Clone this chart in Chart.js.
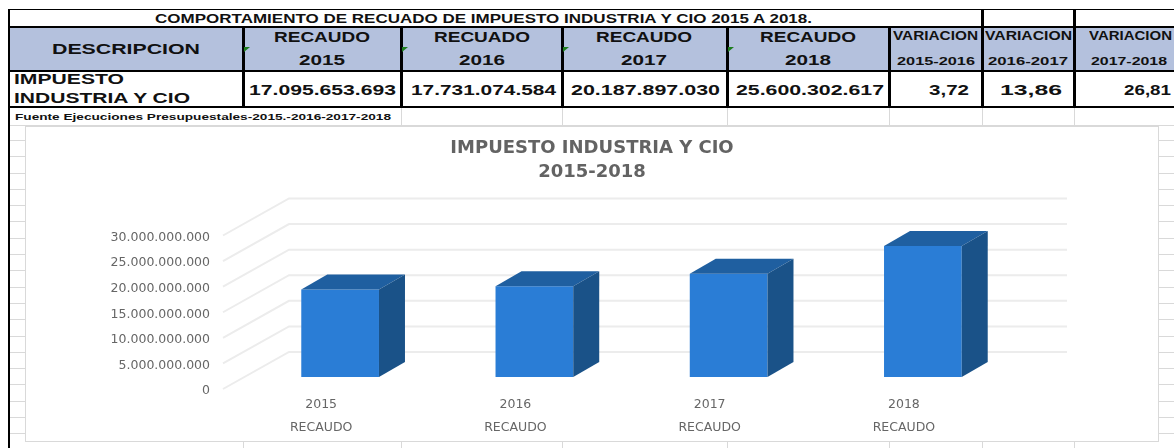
<!DOCTYPE html>
<html lang="es">
<head>
<meta charset="utf-8">
<script src="https://cdn.jsdelivr.net/npm/chart.js@4"></script>
<style>
html,body{margin:0;padding:0;background:#fff;overflow:hidden}
#page{position:relative;width:1174px;height:448px;overflow:hidden;font-family:"Liberation Sans",Arial,sans-serif}
.b{position:absolute}
.t{position:absolute;white-space:nowrap;font-weight:bold;color:#111;line-height:1;transform-origin:0 50%}
#frame{position:absolute;left:26px;top:127px;width:1132px;height:314px;background:#fff;box-shadow:0 0 0 1px #d9d9d9}
canvas{position:absolute;left:0;top:0}
</style>
</head>
<body>
<div id="page">
  <div id="frame"><canvas id="c" width="1132" height="314"></canvas></div>
</div>
<script>
// ---- data ----
const years = ['2015', '2016', '2017', '2018'];
const seriesName = 'RECAUDO';
const recaudo = [17095653693, 17731074584, 20187897030, 25600302617];
const recaudoText = ['17.095.653.693', '17.731.074.584', '20.187.897.030', '25.600.302.617'];
const headerWords = ['RECAUDO', 'RECUADO', 'RECAUDO', 'RECAUDO'];
const variationPeriods = ['2015-2016', '2016-2017', '2017-2018'];
const variationValues = ['3,72', '13,86', '26,81'];
const tickValues = [0, 5000000000, 10000000000, 15000000000, 20000000000, 25000000000, 30000000000];
const chartTitle = ['IMPUESTO INDUSTRIA Y CIO', '2015-2018'];
const tableTitle = 'COMPORTAMIENTO DE RECUADO DE IMPUESTO INDUSTRIA Y CIO 2015 A 2018.';
const sourceNote = 'Fuente Ejecuciones Presupuestales-2015.-2016-2017-2018';

// ---- spreadsheet backdrop (HTML) ----
const page = document.getElementById('page');
const frame = document.getElementById('frame');
function box(x, y, w, h, col, before) {
  const d = document.createElement('div');
  d.className = 'b';
  d.style.cssText = `left:${x}px;top:${y}px;width:${w}px;height:${h}px;background:${col}`;
  page.insertBefore(d, before ? frame : null);
  return d;
}
function text(s, x0, x1, yc, size, col) {
  const d = document.createElement('div');
  d.className = 't';
  d.textContent = s;
  d.style.fontSize = size + 'px';
  d.style.left = x0 + 'px';
  d.style.top = (yc - size / 2) + 'px';
  if (col) d.style.color = col;
  page.appendChild(d);
  d.style.transform = `scaleX(${(x1 - x0) / d.getBoundingClientRect().width})`;
}
const colX = [243, 401, 562, 727, 889, 982, 1074];
// faint cell gridlines
for (let y = 9.5; y < 448; y += 16.3) {
  if (y > 127) { box(10, Math.round(y), 16, 1, '#d9d9d9', true); box(1158, Math.round(y), 16, 1, '#d9d9d9', true); }
}
box(10, 125, 1164, 1, '#d9d9d9', true);
colX.forEach(x => {
  if (x > 243) box(x, 107, 1, 18, '#d9d9d9', true);
  box(x, 441, 1, 7, '#d9d9d9', true);
});
// header fill
box(10, 28, 1164, 42, '#b4c1dd', true);
// black rules
const black = '#000';
box(8, 9, 1166, 1, black);
box(8, 26, 1166, 2, black);
box(8, 70, 1166, 2, black);
box(8, 106, 1166, 2, black);
box(8, 9, 2, 439, black);
colX.forEach((x, i) => box(x - 1, i > 4 ? 9 : 27, 3, i > 4 ? 98 : 80, black));
// green cell markers
[244, 402, 563, 728].forEach(x => {
  const d = box(x, 47, 6, 5, '#1e7d1e');
  d.style.clipPath = 'polygon(0 0,100% 0,0 100%)';
});

text(tableTitle, 155, 812, 18, 13);
text('DESCRIPCION', 52, 200, 49, 15.5);
text('IMPUESTO', 14, 124, 79, 15.5);
text('INDUSTRIA Y CIO', 14, 190, 98, 15.5);
const yearCx = [322, 482, 644, 808];
const valX = [[249, 396], [411, 556], [571, 720], [736, 884]];
years.forEach((y, i) => {
  text(headerWords[i], yearCx[i] - 48, yearCx[i] + 48, 36, 15);
  text(y, yearCx[i] - 23, yearCx[i] + 23, 59, 15);
  text(recaudoText[i], valX[i][0], valX[i][1], 89, 15);
});
const varX = [[893, 978, 897, 975], [985, 1072, 988, 1068], [1089, 1172, 1091, 1167]];
const varVal = [[929, 969], [1000, 1062], [1124, 1171]];
variationPeriods.forEach((p, i) => {
  text('VARIACION', varX[i][0], varX[i][1], 36, 12);
  text(p, varX[i][2], varX[i][3], 61, 11);
  text(variationValues[i], varVal[i][0], varVal[i][1], 89, 15);
});
text(sourceNote, 15, 391, 117, 8.5, '#111');

// ---- chart ----
const wall = { frontX: -20, backX: 46, rightX: 824, rise: 37, drop: 12 };
const depth = { dx: 26, dy: 15 };
const colors = { front: '#2a7dd6', top: '#1f5fa0', side: '#1a5288', grid: '#ececec' };

const walls3d = {
  id: 'walls3d',
  beforeDatasetsDraw(chart) {
    const { ctx, chartArea: a, scales: { y } } = chart;
    ctx.save();
    ctx.strokeStyle = colors.grid;
    ctx.lineWidth = 2;
    y.ticks.forEach(t => {
      const p = y.getPixelForValue(t.value) + wall.drop;
      ctx.beginPath();
      ctx.moveTo(a.left + wall.frontX, p);
      ctx.lineTo(a.left + wall.backX, p - wall.rise);
      ctx.lineTo(a.left + wall.rightX, p - wall.rise);
      ctx.stroke();
    });
    ctx.restore();
  },
  afterDatasetsDraw(chart) {
    const { ctx } = chart;
    ctx.save();
    chart.getDatasetMeta(0).data.forEach(el => {
      const l = el.x - el.width / 2, r = el.x + el.width / 2, top = el.y, base = el.base;
      ctx.fillStyle = colors.top;
      ctx.beginPath();
      ctx.moveTo(l, top); ctx.lineTo(l + depth.dx, top - depth.dy);
      ctx.lineTo(r + depth.dx, top - depth.dy); ctx.lineTo(r, top);
      ctx.closePath(); ctx.fill();
      ctx.fillStyle = colors.side;
      ctx.beginPath();
      ctx.moveTo(r, top); ctx.lineTo(r + depth.dx, top - depth.dy);
      ctx.lineTo(r + depth.dx, base - depth.dy); ctx.lineTo(r, base);
      ctx.closePath(); ctx.fill();
    });
    ctx.restore();
  }
};

new Chart(document.getElementById('c'), {
  type: 'bar',
  data: {
    labels: years.map(y => [y, seriesName]),
    datasets: [{ label: seriesName, data: recaudo, backgroundColor: colors.front, barPercentage: 0.4, categoryPercentage: 1, yAxisID: 'y' }]
  },
  plugins: [walls3d],
  options: {
    responsive: false,
    animation: false,
    layout: { padding: { left: 0, right: 0, top: 9, bottom: 0 } },
    plugins: {
      legend: { display: false },
      tooltip: { enabled: false },
      title: {
        display: true,
        text: chartTitle,
        color: '#636363',
        font: { family: '"DejaVu Sans", sans-serif', size: 18, weight: 'bold', lineHeight: 24 / 18 },
        padding: { top: 0, bottom: 39.5 }
      }
    },
    scales: {
      x: {
        grid: { display: false },
        border: { display: false },
        afterFit(s) { s.height = 64; },
        ticks: {
          color: '#666666',
          maxRotation: 0,
          labelOffset: -19,
          padding: 8,
          font: { family: '"DejaVu Sans", sans-serif', size: 12.5, lineHeight: 23 / 12.5 }
        }
      },
      y: {
        min: 0,
        max: 30000000000,
        afterFit(s) { s.width = 217; },
        afterBuildTicks(s) { s.ticks = tickValues.map(v => ({ value: v })); },
        grid: { display: false, drawTicks: false },
        border: { display: false },
        ticks: {
          color: '#666666',
          padding: 33,
          labelOffset: 14,
          autoSkip: false,
          font: { family: '"DejaVu Sans", sans-serif', size: 12.5 },
          callback: v => String(v).replace(/\B(?=(\d{3})+$)/g, '.')
        }
      },
      // empty right-hand margin so that the plot ends where the reference's does
      margin: {
        type: 'linear',
        position: 'right',
        display: true,
        afterFit(s) { s.width = 138; },
        grid: { display: false, drawTicks: false },
        border: { display: false },
        ticks: { display: false }
      }
    }
  }
});
</script>
</body>
</html>
